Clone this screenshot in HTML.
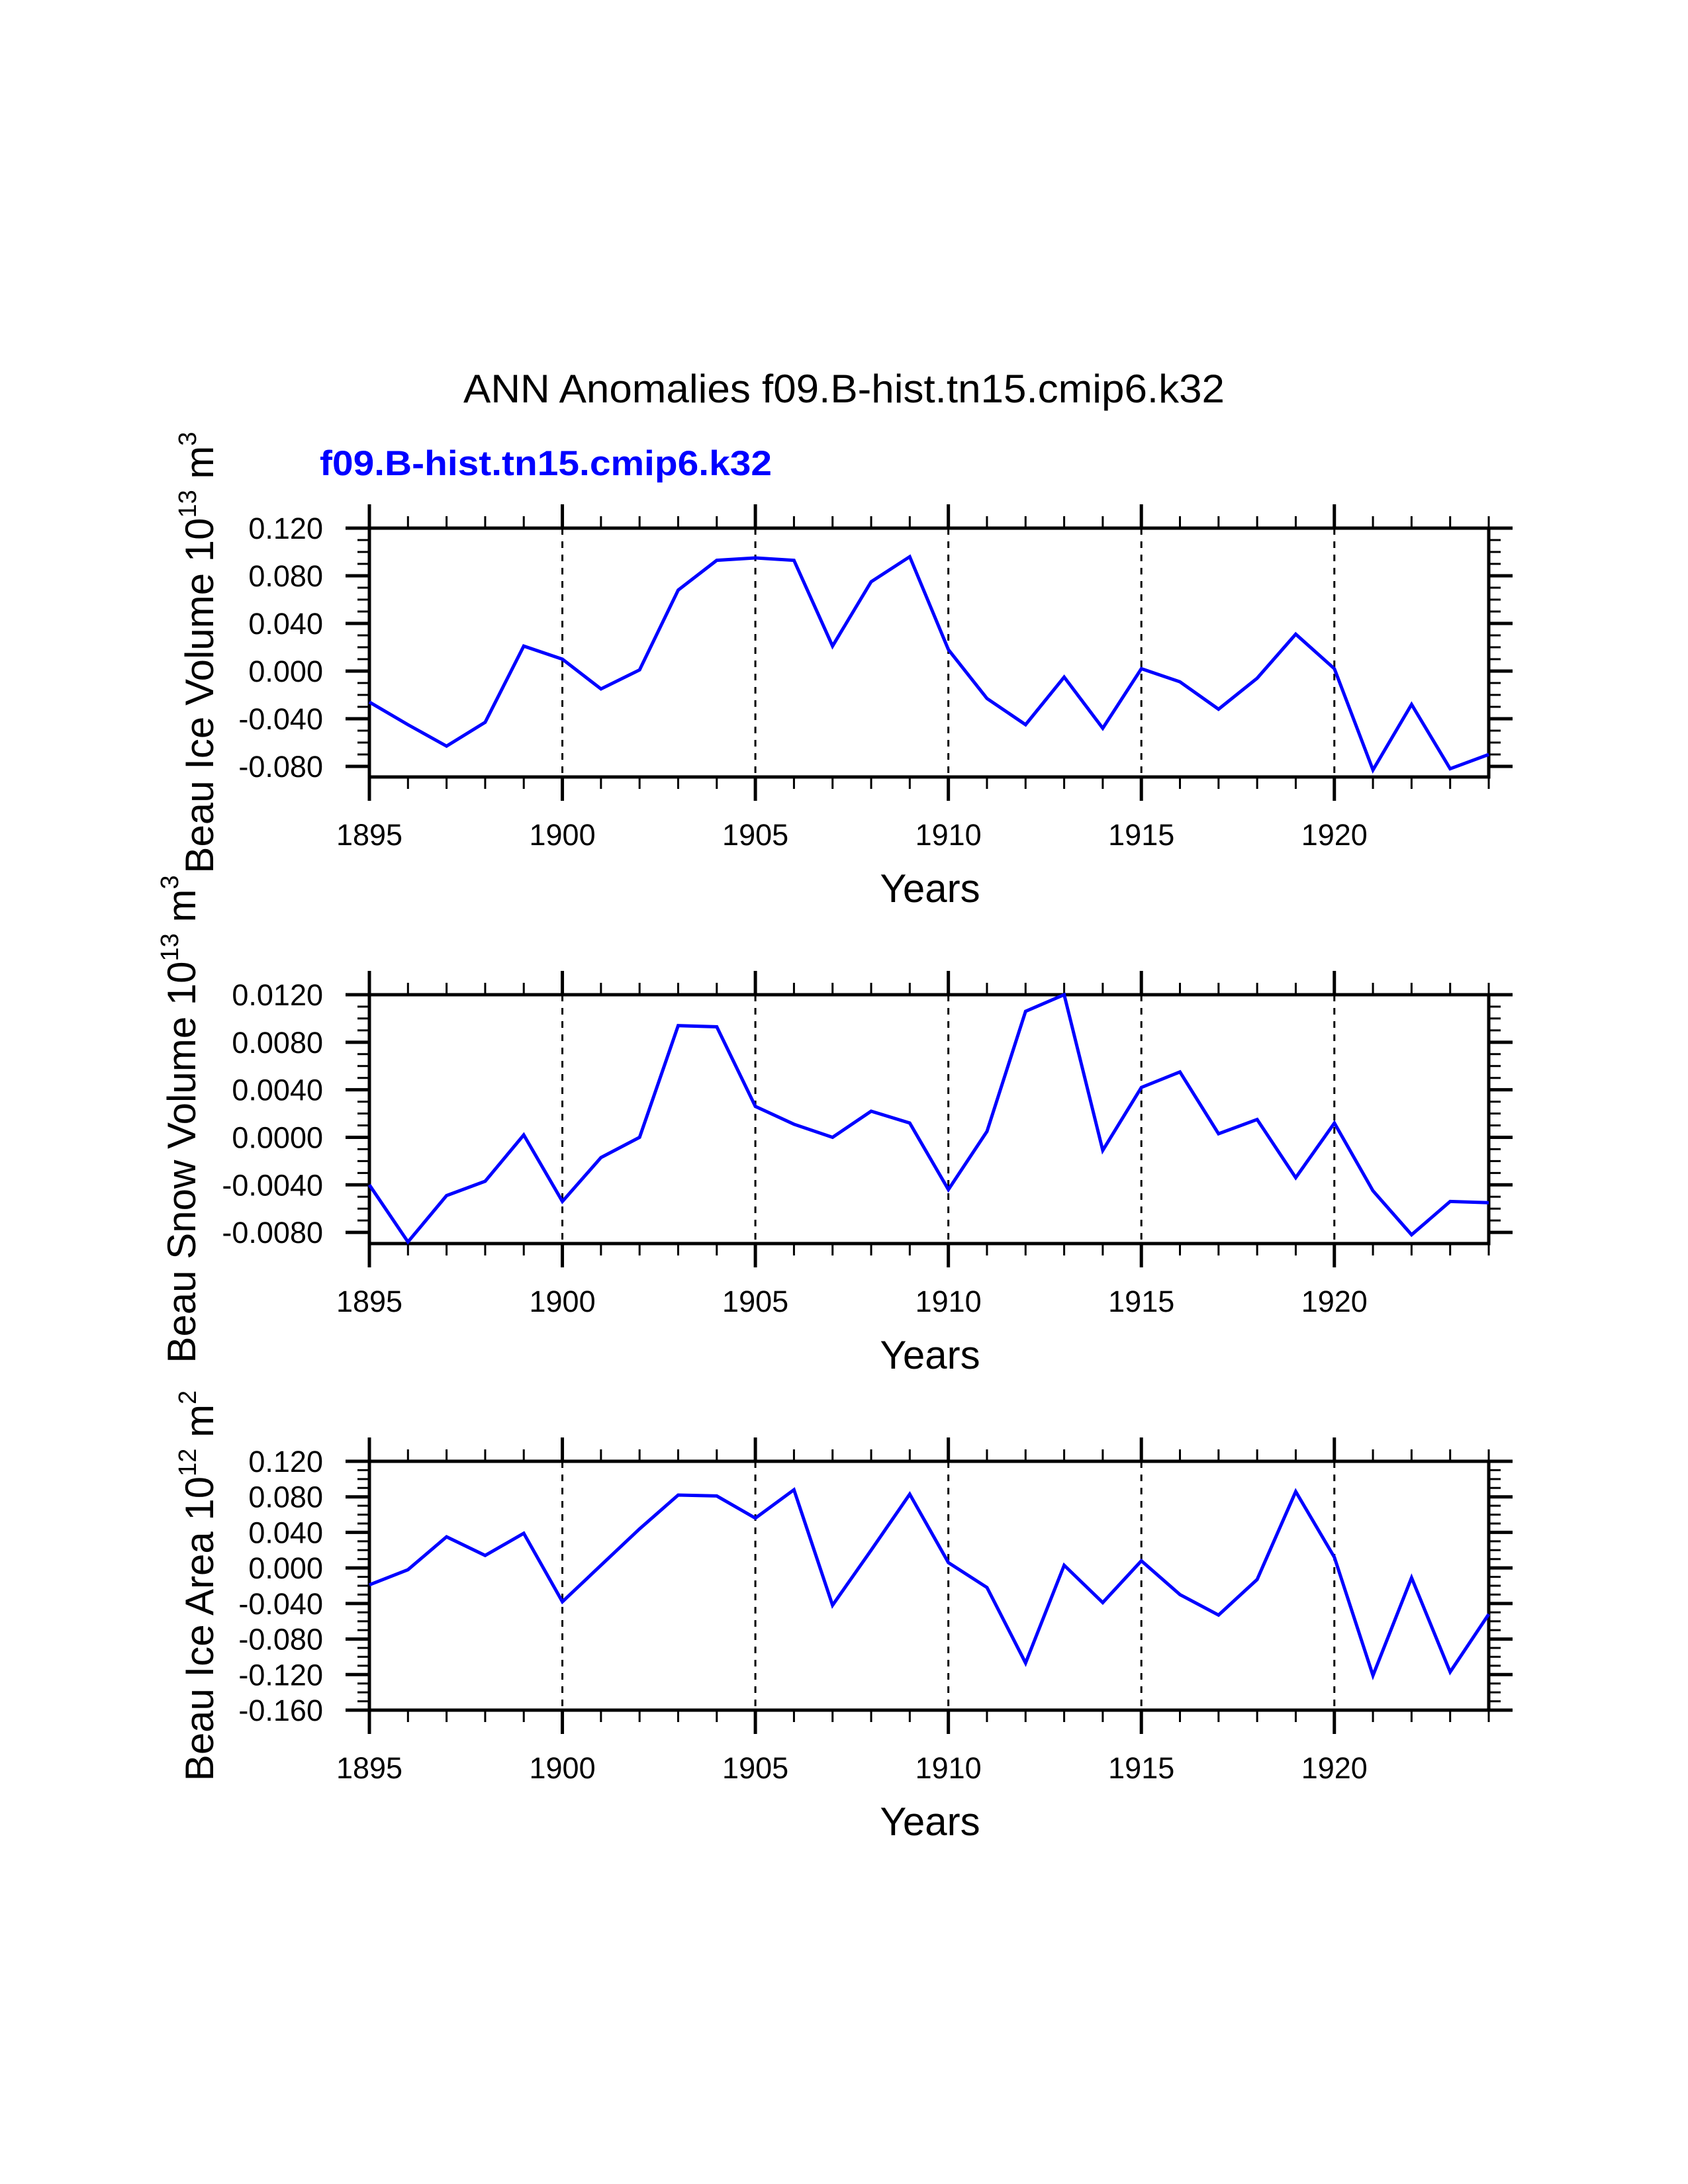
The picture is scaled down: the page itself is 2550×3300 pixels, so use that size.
<!DOCTYPE html>
<html><head><meta charset="utf-8"><style>
html,body{margin:0;padding:0;background:#fff}
svg{display:block}
text{font-family:"Liberation Sans",Arial,sans-serif}
</style></head><body>
<svg id="chart" xmlns="http://www.w3.org/2000/svg" width="2550" height="3300" viewBox="0 0 2550 3300">
<rect width="2550" height="3300" fill="#fff"/>
<text x="1275" y="608" font-size="60" text-anchor="middle" textLength="1150" lengthAdjust="spacingAndGlyphs">ANN Anomalies f09.B-hist.tn15.cmip6.k32</text>
<text x="483" y="718" font-size="53" font-weight="bold" fill="#0000ff" textLength="683" lengthAdjust="spacingAndGlyphs">f09.B-hist.tn15.cmip6.k32</text>
<g id="panels"></g>
</svg>
<script>
const years = [];
for (let y = 1895; y <= 1924; y++) years.push(y);
const iceVolume = [-0.026,-0.045,-0.063,-0.043,0.021,0.010,-0.015,0.001,0.068,0.093,0.095,0.093,0.021,0.075,0.096,0.018,-0.023,-0.045,-0.005,-0.048,0.002,-0.009,-0.032,-0.006,0.031,0.002,-0.083,-0.028,-0.082,-0.070];
const snowVolume = [-0.0040,-0.0088,-0.0049,-0.0037,0.0002,-0.0054,-0.0017,0.0000,0.0094,0.0093,0.0026,0.0011,0.0000,0.0022,0.0012,-0.0044,0.0005,0.0106,0.0120,-0.0011,0.0042,0.0055,0.0003,0.0015,-0.0034,0.0012,-0.0045,-0.0082,-0.0054,-0.0055];
const iceArea = [-0.019,-0.002,0.035,0.014,0.039,-0.038,0.003,0.044,0.082,0.081,0.056,0.088,-0.042,0.020,0.083,0.006,-0.022,-0.107,0.003,-0.039,0.008,-0.030,-0.053,-0.013,0.086,0.012,-0.121,-0.011,-0.117,-0.052];
const xTickLabels = ["1895","1900","1905","1910","1915","1920"];
const iceVolTicks = ["0.120","0.080","0.040","0.000","-0.040","-0.080"];
const snowVolTicks = ["0.0120","0.0080","0.0040","0.0000","-0.0040","-0.0080"];
const iceAreaTicks = ["0.120","0.080","0.040","0.000","-0.040","-0.080","-0.120","-0.160"];

const NS = "http://www.w3.org/2000/svg";
const L = 558, R = 2249, X0 = 1895, X1 = 1924;
function xs(v){ return L + (v - X0) * (R - L) / (X1 - X0); }
function mk(tag, attrs, parent){
  const e = document.createElementNS(NS, tag);
  for (const k in attrs) e.setAttribute(k, attrs[k]);
  parent.appendChild(e); return e;
}
const root = document.getElementById('panels');

function panel(name, top, ymin, ymax, data, ticks, minorStep, titleParts, titleX){
  const bot = top + 376;
  const ys = v => bot - (v - ymin) * (bot - top) / (ymax - ymin);
  const g = mk('g', {}, root);
  
  
  // gridlines
  for (let yr = 1900; yr <= 1920; yr += 5) {
    const gl = mk('line', {x1: xs(yr), x2: xs(yr), y1: top, y2: bot, stroke: '#000', 'stroke-width': 3, 'stroke-dasharray': '10 10'}, g);
    
    
  }
  // x ticks
  for (let yr = X0; yr <= X1; yr++) {
    const major = (yr % 5 === 0);
    const len = major ? 36 : 18, w = major ? 5 : 3;
    const t1 = mk('line', {x1: xs(yr), x2: xs(yr), y1: top, y2: top - len, stroke: '#000', 'stroke-width': w}, g);
    
    
    const t2 = mk('line', {x1: xs(yr), x2: xs(yr), y1: bot, y2: bot + len, stroke: '#000', 'stroke-width': w}, g);
    
    
  }
  xTickLabels.forEach(lab => {
    const t = mk('text', {x: xs(+lab), y: bot + 103, 'font-size': 45, 'text-anchor': 'middle'}, g);
    t.textContent = lab;
    
    
  });
  // y minor ticks
  const nMin = Math.round((ymax - ymin) / minorStep);
  for (let i = 0; i <= nMin; i++) {
    const v = ymax - i * minorStep;
    const y = ys(v);
    if (y > bot + 0.5) break;
    const a = mk('line', {x1: L, x2: L - 18, y1: y, y2: y, stroke: '#000', 'stroke-width': 3}, g);
    
    
    const b = mk('line', {x1: R, x2: R + 18, y1: y, y2: y, stroke: '#000', 'stroke-width': 3}, g);
    
    
  }
  ticks.forEach(lab => {
    const y = ys(parseFloat(lab));
    const a = mk('line', {x1: L, x2: L - 36, y1: y, y2: y, stroke: '#000', 'stroke-width': 5}, g);
    
    
    const b = mk('line', {x1: R, x2: R + 36, y1: y, y2: y, stroke: '#000', 'stroke-width': 5}, g);
    
    
    const t = mk('text', {x: 488, y: y + 16, 'font-size': 45, 'text-anchor': 'end'}, g);
    t.textContent = lab;
    
    
  });
  // frame
  const fr = mk('rect', {x: L, y: top, width: R - L, height: bot - top, fill: 'none', stroke: '#000', 'stroke-width': 5}, g);
  
  
  // series
  const pts = data.map((v, i) => xs(years[i]).toFixed(1) + ',' + ys(v).toFixed(1)).join(' ');
  const pl = mk('polyline', {points: pts, fill: 'none', stroke: '#0000ff', 'stroke-width': 5, 'stroke-linejoin': 'miter'}, g);
  
  
  // axis titles
  const xt = mk('text', {x: 1405, y: bot + 189, 'font-size': 60, 'text-anchor': 'middle'}, g);
  xt.textContent = 'Years';
  
  
  const cy = (top + bot) / 2;
  const yt = mk('text', {x: 0, y: 0, 'font-size': 60, 'text-anchor': 'middle', transform: 'translate(' + titleX + ',' + cy + ') rotate(-90)'}, g);
  
  
  titleParts.forEach(p => {
    const ts = mk('tspan', {}, yt);
    if (p.sup) { ts.setAttribute('font-size', 38); ts.setAttribute('dy', -26); }
    else if (p.after) { ts.setAttribute('dy', 26); }
    ts.textContent = p.t;
  });
}
panel('ice-volume', 798, -0.0889, 0.12, iceVolume, iceVolTicks, 0.01,
  [{t:'Beau Ice Volume 10'},{t:'13',sup:1},{t:' m',after:1},{t:'3',sup:1}], 322);
panel('snow-volume', 1503, -0.00894, 0.012, snowVolume, snowVolTicks, 0.001,
  [{t:'Beau Snow Volume 10'},{t:'13',sup:1},{t:' m',after:1},{t:'3',sup:1}], 295);
panel('ice-area', 2208, -0.16, 0.12, iceArea, iceAreaTicks, 0.01,
  [{t:'Beau Ice Area 10'},{t:'12',sup:1},{t:' m',after:1},{t:'2',sup:1}], 322);
</script>
</body></html>
